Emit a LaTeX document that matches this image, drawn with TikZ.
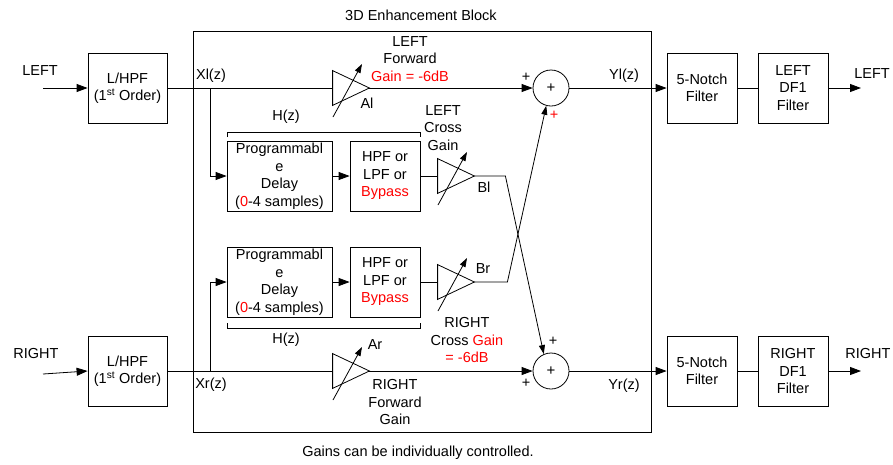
\documentclass[tikz,border=0pt]{standalone}
\usepackage{fontspec}
\setmainfont{Liberation Sans}
\usetikzlibrary{arrows.meta,calc}

\begin{document}
\begin{tikzpicture}[x=1pt, y=-1pt, line width=0.8pt,
  font=\fontsize{14.5}{17.5}\selectfont,
  block/.style={draw, rectangle, minimum width=70pt, minimum height=70pt, align=center, inner sep=0pt},
  amp/.style={rectangle, minimum width=36pt, minimum height=34pt, inner sep=0pt},
  adder/.style={draw, circle, minimum size=36pt, inner sep=0pt, font=\fontsize{15}{16}\selectfont},
  sig/.style={-{Triangle[length=11pt, width=8pt]}},
  gain/.style={-{Triangle[length=9pt, width=6pt]}},
  lbl/.style={align=center, inner sep=0pt}]
  \useasboundingbox (0,0) rectangle (893,464);

  \node[lbl] (title) at (421,15) {3D Enhancement Block};
  \node[draw, minimum width=458pt, minimum height=401pt] (enh) at (422,231.5) {};

  \node[block, minimum width=79pt] (lhpfL) at (127.5,88) {L/HPF\\(1\textsuperscript{st} Order)};
  \node[block, minimum width=79pt] (lhpfR) at (127.5,371) {L/HPF\\(1\textsuperscript{st} Order)};
  \node[block, minimum width=105pt] (dlyL) at (279.5,176) {Programmabl\\e\\Delay\\(\textcolor{red}{0}-4 samples)};
  \node[block] (hpfL) at (385,176) {HPF or\\LPF or\\\textcolor{red}{Bypass}};
  \node[block, minimum width=105pt] (dlyR) at (279.5,282) {Programmabl\\e\\Delay\\(\textcolor{red}{0}-4 samples)};
  \node[block] (hpfR) at (385,282) {HPF or\\LPF or\\\textcolor{red}{Bypass}};
  \node[amp] (ampAl) at (351,88) {};
  \node[amp] (ampBl) at (456,176) {};
  \node[amp] (ampBr) at (456,282) {};
  \node[amp] (ampAr) at (351,371) {};
  \node[adder] (sumL) at (551,88) {+};
  \node[adder] (sumR) at (551,371) {+};
  \node[block] (notchL) at (702,88) {5-Notch\\Filter};
  \node[block] (df1L) at (793,88) {LEFT\\DF1\\Filter};
  \node[block] (notchR) at (702,371) {5-Notch\\Filter};
  \node[block] (df1R) at (793,371) {RIGHT\\DF1\\Filter};

  \coordinate (inL) at (43,88);
  \coordinate (inR) at (43,374);
  \coordinate (xl) at (210,88);
  \coordinate (xr) at (210,371);
  \coordinate (outL) at (861,88);
  \coordinate (outR) at (861,371);

  \node[lbl] (inLtxt) at (40,71) {LEFT};
  \node[lbl] (inRtxt) at (36,353) {RIGHT};
  \node[lbl] (xltxt) at (211,76) {Xl(z)};
  \node[lbl] (xrtxt) at (211,385) {Xr(z)};
  \node[lbl] (fwdL) at (410,59) {LEFT\\Forward\\\textcolor{red}{Gain = -6dB}};
  \node[lbl] (altxt) at (367,103) {Al};
  \node[lbl] (hzL) at (286,117) {H(z)};
  \node[lbl] (hzR) at (286,340) {H(z)};
  \node[lbl] (crossL) at (443,128) {LEFT\\Cross\\Gain};
  \node[lbl] (bltxt) at (484,187) {Bl};
  \node[lbl] (brtxt) at (483,269) {Br};
  \node[lbl] (crossR) at (467,340) {RIGHT\\Cross \textcolor{red}{Gain}\\\textcolor{red}{= -6dB}};
  \node[lbl] (artxt) at (375,345) {Ar};
  \node[lbl] (fwdR) at (395,402) {RIGHT\\Forward\\Gain};
  \node[lbl] (plusLa) at (526,77) {+};
  \node[lbl, text=red] (plusLb) at (554,115) {+};
  \node[lbl] (plusRa) at (553,341) {+};
  \node[lbl] (plusRb) at (526,383) {+};
  \node[lbl] (yltxt) at (624,76) {Yl(z)};
  \node[lbl] (yrtxt) at (624,386) {Yr(z)};
  \node[lbl] (outLtxt) at (872,74) {LEFT};
  \node[lbl] (outRtxt) at (868,353) {RIGHT};
  \node[lbl] (note) at (418,453) {Gains can be individually controlled.};

  \draw (227,137) -- (227,132) -- (420,132) -- (420,137);
  \draw (227,323) -- (227,328) -- (420,328) -- (420,323);

  \foreach \a in {ampAl,ampBl,ampBr,ampAr} {
    \draw (\a.north west) -- (\a.east) -- (\a.south west) -- cycle;
    \draw[gain] ($(\a.center)+(-18,29)$) -- ($(\a.center)+(11,-24)$);
  }

  \draw[sig] (inL) -- (lhpfL.west);
  \draw (lhpfL.east) -- (ampAl.west);
  \draw[sig] (xl) |- (dlyL.west);
  \draw[sig] (dlyL) -- (hpfL);
  \draw (hpfL) -- (ampBl.west);
  \draw[sig] (ampAl.east) -- (sumL.west);
  \draw[gain] (ampBl.east) -- ++(31,0) -- (sumR.113);

  \draw[sig] (inR) -- (lhpfR.west);
  \draw (lhpfR.east) -- (ampAr.west);
  \draw[sig] (xr) |- (dlyR.west);
  \draw[sig] (dlyR) -- (hpfR);
  \draw (hpfR) -- (ampBr.west);
  \draw[sig] (ampAr.east) -- (sumR.west);
  \draw[gain] (ampBr.east) -- ++(33,0) -- (sumL.255);

  \draw[sig] (sumL) -- (notchL);
  \draw (notchL) -- (df1L);
  \draw[sig] (df1L) -- (outL);
  \draw[sig] (sumR) -- (notchR);
  \draw (notchR) -- (df1R);
  \draw[sig] (df1R) -- (outR);
\end{tikzpicture}
\end{document}
